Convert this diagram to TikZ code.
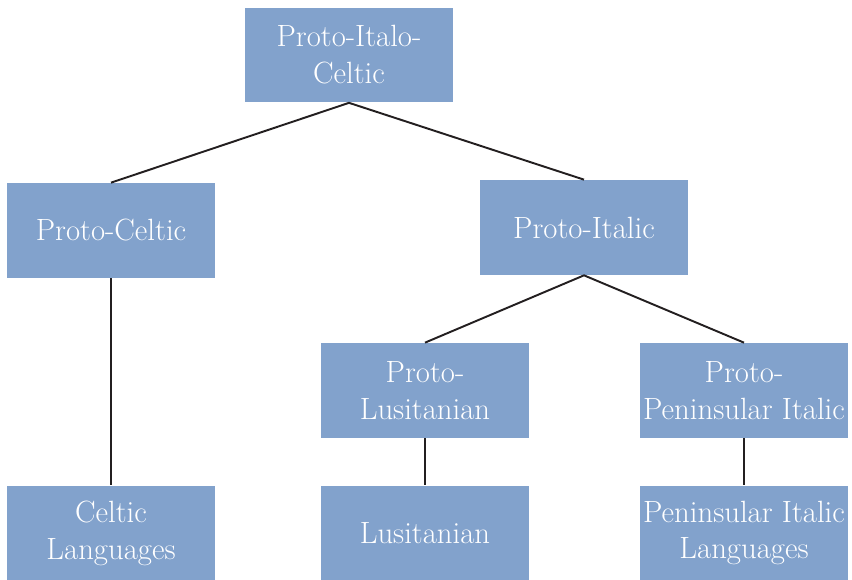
\documentclass[tikz,border=0pt]{standalone}
\usepackage{tikz}
\usetikzlibrary{positioning,calc}
\usepackage{xcolor}
\definecolor{Ink}{HTML}{231F20}
\definecolor{Box}{HTML}{82A2CC}

\begin{document}
\begin{tikzpicture}[x=0.02cm,y=-0.02cm,
  box/.style={fill=Box,text=white,minimum width=4.16cm,minimum height=1.9cm,inner sep=0pt,align=center,font=\fontsize{17.5}{21}\selectfont},
  link/.style={Ink,line width=1.1pt}]
\useasboundingbox (0,0) rectangle (852,580);
\node[box] (pic) at (349,55) {Proto-Italo-\\Celtic};
\node[box] (pc) at (111,230.5) {Proto-Celtic};
\node[box] (pi) at (584,227.5) {Proto-Italic};
\node[box] (pl) at (425,390.5) {Proto-\\Lusitanian};
\node[box] (ppi) at (744,390.5) {Proto-\\Peninsular Italic};
\node[box] (cl) at (111,533) {Celtic\\Languages};
\node[box] (lu) at (425,533) {Lusitanian};
\node[box] (pil) at (744,533) {Peninsular Italic\\Languages};
\draw[link] (pc.north) -- (pic.south) -- (pi.north);
\draw[link] (pl.north) -- (pi.south) -- (ppi.north);
\draw[link] (pc.south) -- (cl.north);
\draw[link] (pl.south) -- (lu.north);
\draw[link] (ppi.south) -- (pil.north);
\end{tikzpicture}
\end{document}
